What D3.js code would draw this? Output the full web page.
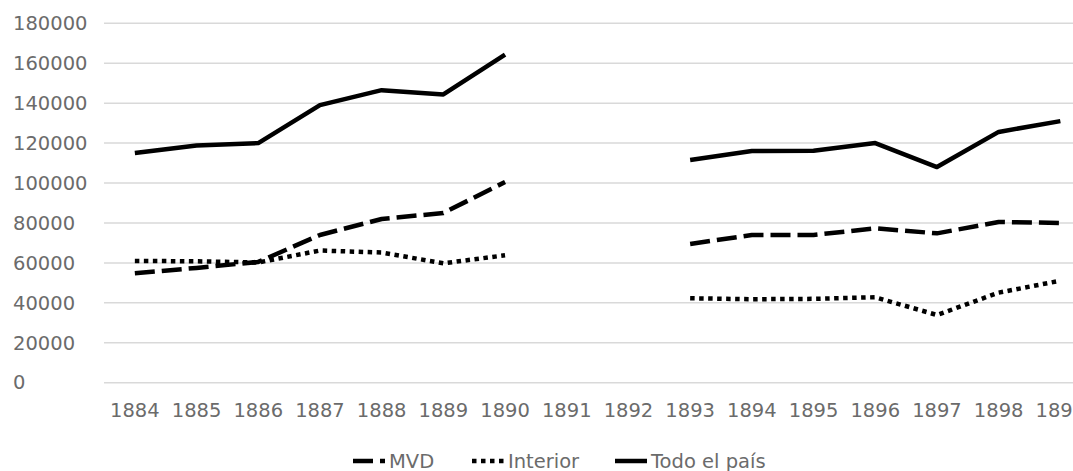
<!DOCTYPE html>
<html>
<head>
<meta charset="utf-8">
<script src="https://cdn.jsdelivr.net/npm/d3@7"></script>
<style>
  html, body { margin: 0; padding: 0; background: #fff; overflow: hidden; }
  text { font-family: "DejaVu Sans", Verdana, sans-serif; }
</style>
</head>
<body>
<svg id="chart" width="1073" height="471"></svg>
<script>
const years = ["1884","1885","1886","1887","1888","1889","1890","1891","1892","1893","1894","1895","1896","1897","1898","1899"];
const mvd      = [54800, 57500, 60500, 74000, 82000, 85000, 100500, null, null, 69500, 74000, 74000, 77300, 74800, 80500, 80000];
const interior = [61000, 60800, 60200, 66200, 65200, 59800, 63800, null, null, 42300, 41800, 42000, 42800, 33900, 45100, 51100];
const total    = [115000, 118800, 120000, 139000, 146500, 144400, 164300, null, null, 111500, 116000, 116200, 120000, 108000, 125600, 131000];
const yTicks = [0, 20000, 40000, 60000, 80000, 100000, 120000, 140000, 160000, 180000];
const seriesNames = ["MVD", "Interior", "Todo el país"];

const svg = d3.select("#chart");
const left = 104, bandW = 61.7;
const x = d3.scaleBand().domain(years).range([left, left + years.length * bandW]);
const y = d3.scaleLinear().domain([0, 180000]).range([382.7, 23.3]);

// gridlines
svg.append("g").selectAll("line").data(yTicks).join("line")
  .attr("x1", left).attr("x2", 1100)
  .attr("y1", d => y(d)).attr("y2", d => y(d))
  .attr("stroke", "#d9d9d9").attr("stroke-width", 1.5);

// y labels
const yAxis = svg.append("g").attr("transform", `translate(${left},0)`)
  .call(d3.axisLeft(y).tickValues(yTicks).tickFormat(d3.format("d")).tickSize(0));
yAxis.select(".domain").remove();
yAxis.selectAll("text")
  .attr("x", 13 - left).attr("text-anchor", "start")
  .attr("fill", "#6b6b6b").style("font-size", "19.5px");

// x labels
const xAxis = svg.append("g").attr("transform", `translate(0,${y(0)})`)
  .call(d3.axisBottom(x).tickSize(0).tickPadding(0));
xAxis.select(".domain").remove();
xAxis.selectAll("text").attr("y", 34).attr("dy", 0)
  .attr("fill", "#6b6b6b").style("font-size", "19.5px");

const styles = [
  { data: mvd, dash: "20,7" },
  { data: interior, dash: "4.5,4.5" },
  { data: total, dash: null }
];
const line = d3.line()
  .defined(d => d.v !== null)
  .x(d => x(d.year) + x.bandwidth() / 2)
  .y(d => y(d.v));

styles.forEach(s => {
  const pts = years.map((yr, i) => ({ year: yr, v: s.data[i] }));
  svg.append("path").datum(pts)
    .attr("d", line)
    .attr("fill", "none")
    .attr("stroke", "#000")
    .attr("stroke-width", 4.5)
    .attr("stroke-linejoin", "round")
    .attr("stroke-dasharray", s.dash);
});

// legend
const legendItems = [
  { name: seriesNames[0], dash: "20,7", x0: 353 },
  { name: seriesNames[1], dash: "4.5,4.5", x0: 472 },
  { name: seriesNames[2], dash: null, x0: 615 }
];
const lg = svg.append("g");
legendItems.forEach(it => {
  lg.append("line")
    .attr("x1", it.x0).attr("x2", it.x0 + 32)
    .attr("y1", 461).attr("y2", 461)
    .attr("stroke", "#000").attr("stroke-width", 4.5)
    .attr("stroke-dasharray", it.dash);
  lg.append("text")
    .attr("x", it.x0 + 36).attr("y", 467.5)
    .attr("fill", "#6b6b6b").style("font-size", "19.5px")
    .text(it.name);
});
</script>
</body>
</html>
